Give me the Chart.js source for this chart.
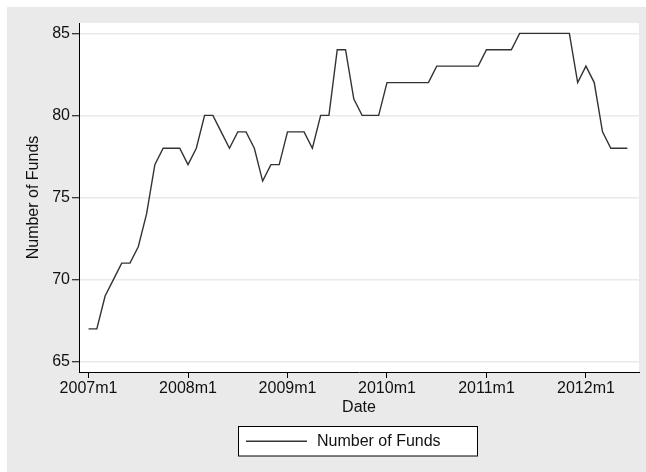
<!DOCTYPE html>
<html>
<head>
<meta charset="utf-8">
<script src="https://cdn.jsdelivr.net/npm/chart.js@4/dist/chart.umd.min.js"></script>
<style>
html,body{margin:0;padding:0;background:#ffffff;}
canvas{display:block;}
</style>
</head>
<body>
<canvas id="c" width="646" height="472"></canvas>
<script>
const dates = [
  "2007m1","2007m2","2007m3","2007m4","2007m5","2007m6","2007m7","2007m8","2007m9","2007m10","2007m11","2007m12",
  "2008m1","2008m2","2008m3","2008m4","2008m5","2008m6","2008m7","2008m8","2008m9","2008m10","2008m11","2008m12",
  "2009m1","2009m2","2009m3","2009m4","2009m5","2009m6","2009m7","2009m8","2009m9","2009m10","2009m11","2009m12",
  "2010m1","2010m2","2010m3","2010m4","2010m5","2010m6","2010m7","2010m8","2010m9","2010m10","2010m11","2010m12",
  "2011m1","2011m2","2011m3","2011m4","2011m5","2011m6","2011m7","2011m8","2011m9","2011m10","2011m11","2011m12",
  "2012m1","2012m2","2012m3","2012m4","2012m5","2012m6"
];
const numberOfFunds = [
  67,67,69,70,71,71,72,74,77,78,78,78,
  77,78,80,80,79,78,79,79,78,76,77,77,
  79,79,79,78,80,80,84,84,81,80,80,80,
  82,82,82,82,82,82,83,83,83,83,83,83,
  84,84,84,84,85,85,85,85,85,85,85,82,
  83,82,79,78,78,78
];
const xTickLabels = ["2007m1","2008m1","2009m1","2010m1","2011m1","2012m1"];
const yTickValues = [65,70,75,80,85];
const seriesName = "Number of Funds";
const xTitle = "Date";
const yTitle = "Number of Funds";

const FONT = "'Liberation Sans', Arial, Helvetica, sans-serif";
const xTickPos = xTickLabels.map(l => dates.indexOf(l));

const bgPlugin = {
  id: 'bg',
  beforeDraw(chart) {
    const ctx = chart.ctx, a = chart.chartArea;
    ctx.save();
    ctx.fillStyle = '#ffffff';
    ctx.fillRect(0, 0, chart.width, chart.height);
    ctx.fillStyle = '#eaeaea';
    ctx.fillRect(7, 7, chart.width - 7, chart.height - 7);
    ctx.fillStyle = '#ffffff';
    ctx.fillRect(a.left, a.top, a.right - a.left, a.bottom - a.top);
    ctx.restore();
  }
};

const legendPlugin = {
  id: 'boxLegend',
  afterDraw(chart) {
    const ctx = chart.ctx;
    const x0 = 238.5, y0 = 426.5, w = 239, h = 29.5;
    ctx.save();
    ctx.fillStyle = '#ffffff';
    ctx.fillRect(x0, y0, w, h);
    ctx.strokeStyle = '#000000';
    ctx.lineWidth = 1;
    ctx.strokeRect(x0, y0, w, h);
    const cy = y0 + h / 2;
    ctx.strokeStyle = '#333333';
    ctx.lineWidth = 1.4;
    ctx.beginPath();
    ctx.moveTo(246, cy);
    ctx.lineTo(307, cy);
    ctx.stroke();
    ctx.fillStyle = '#111111';
    ctx.font = "16px " + FONT;
    ctx.textBaseline = 'middle';
    ctx.textAlign = 'left';
    ctx.fillText(seriesName, 317, cy);
    ctx.restore();
  }
};

new Chart(document.getElementById('c'), {
  type: 'line',
  data: {
    datasets: [{
      label: seriesName,
      data: numberOfFunds.map((v, i) => ({x: i, y: v})),
      borderColor: '#333333',
      borderWidth: 1.4,
      pointRadius: 0,
      tension: 0,
      fill: false
    }]
  },
  options: {
    responsive: false,
    animation: false,
    layout: {padding: {left: 7, right: 7, top: 23, bottom: 54.5}},
    plugins: {legend: {display: false}, tooltip: {enabled: false}},
    scales: {
      x: {
        type: 'linear',
        min: -1.15,
        max: 66.4,
        afterBuildTicks(s) { s.ticks = xTickPos.map(v => ({value: v})); },
        afterFit(s) { s.height = 45.5; },
        ticks: {
          autoSkip: false,
          maxRotation: 0,
          padding: 1,
          color: '#111111',
          font: {family: FONT, size: 16},
          callback: (v) => dates[v]
        },
        grid: {drawOnChartArea: false, drawTicks: true, tickLength: 6, tickColor: '#000000', tickWidth: 1},
        border: {display: true, color: '#000000', width: 1},
        title: {display: true, text: xTitle, color: '#111111', font: {family: FONT, size: 16}, padding: {top: 0, bottom: 0}}
      },
      y: {
        min: 64.37,
        max: 85.63,
        afterBuildTicks(s) { s.ticks = yTickValues.map(v => ({value: v})); },
        afterFit(s) { s.width = 72; },
        ticks: {
          padding: 2,
          color: '#111111',
          font: {family: FONT, size: 16}
        },
        grid: {color: '#eaeaea', lineWidth: 1.5, drawTicks: true, tickLength: 7, tickColor: '#000000', tickWidth: 1},
        border: {display: true, color: '#000000', width: 1},
        title: {display: true, text: yTitle, color: '#111111', font: {family: FONT, size: 16}, padding: {top: 16.7, bottom: 0}}
      }
    }
  },
  plugins: [bgPlugin, legendPlugin]
});
</script>
</body>
</html>
